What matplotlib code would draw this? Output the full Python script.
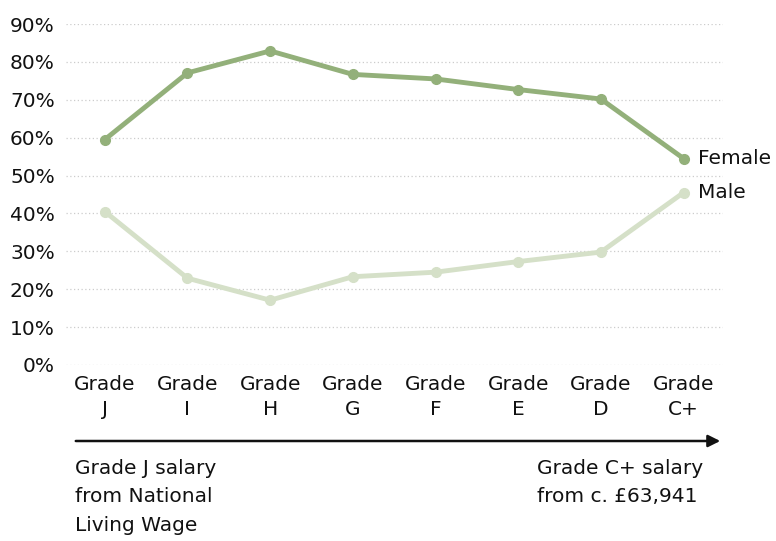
import matplotlib.pyplot as plt

grades = ["J", "I", "H", "G", "F", "E", "D", "C+"]
female = [59.5, 77.1, 82.9, 76.7, 75.5, 72.7, 70.2, 54.5]
male = [40.5, 22.9, 17.1, 23.3, 24.5, 27.3, 29.8, 45.5]

plt.rcParams["font.family"] = ["DejaVu Sans"]
fs = 14.5

fig = plt.figure(figsize=(7.76, 5.41), dpi=100)
ax = fig.add_axes([0.085, 1 - 365 / 541, 0.847, (365 - 24) / 541])

x = list(range(len(grades)))
ax.plot(x, male, color="#d5e0c8", lw=3.5, marker="o", ms=7, clip_on=False, zorder=3)
ax.plot(x, female, color="#93b07a", lw=3.5, marker="o", ms=7, clip_on=False, zorder=4)

ax.text(x[-1] + 0.17, female[-1], "Female", va="center", fontsize=fs, color="#111111")
ax.text(x[-1] + 0.17, male[-1], "Male", va="center", fontsize=fs, color="#111111")

ax.set_xlim(-0.47, 7.48)
ax.set_ylim(0, 90)
ax.set_yticks(range(0, 91, 10))
ax.set_yticklabels([f"{v}%" for v in range(0, 91, 10)], fontsize=fs, color="#111111")
ax.set_xticks(x)
ax.set_xticklabels([f"Grade\n{g}" for g in grades], fontsize=fs, color="#111111",
                   linespacing=1.45)
ax.tick_params(length=0, pad=8)
ax.tick_params(axis="x", pad=7)
ax.grid(axis="y", color="#cccccc", ls=(0, (1, 2)), lw=0.9)
for s in ax.spines.values():
    s.set_visible(False)

# salary arrow underneath
ax.annotate("", xy=(723 / 776, 1 - 441 / 541), xytext=(73 / 776, 1 - 441 / 541),
            xycoords="figure fraction",
            arrowprops=dict(arrowstyle="-|>", color="#111111", lw=1.8, mutation_scale=18))
fig.text(75 / 776, 1 - 459 / 541, "Grade J salary\nfrom National\nLiving Wage",
         fontsize=fs, va="top", ha="left", linespacing=1.62, color="#111111")
fig.text(537 / 776, 1 - 459 / 541, "Grade C+ salary\nfrom c. £63,941",
         fontsize=fs, va="top", ha="left", linespacing=1.62, color="#111111")

fig.savefig("out.png", dpi=100)
